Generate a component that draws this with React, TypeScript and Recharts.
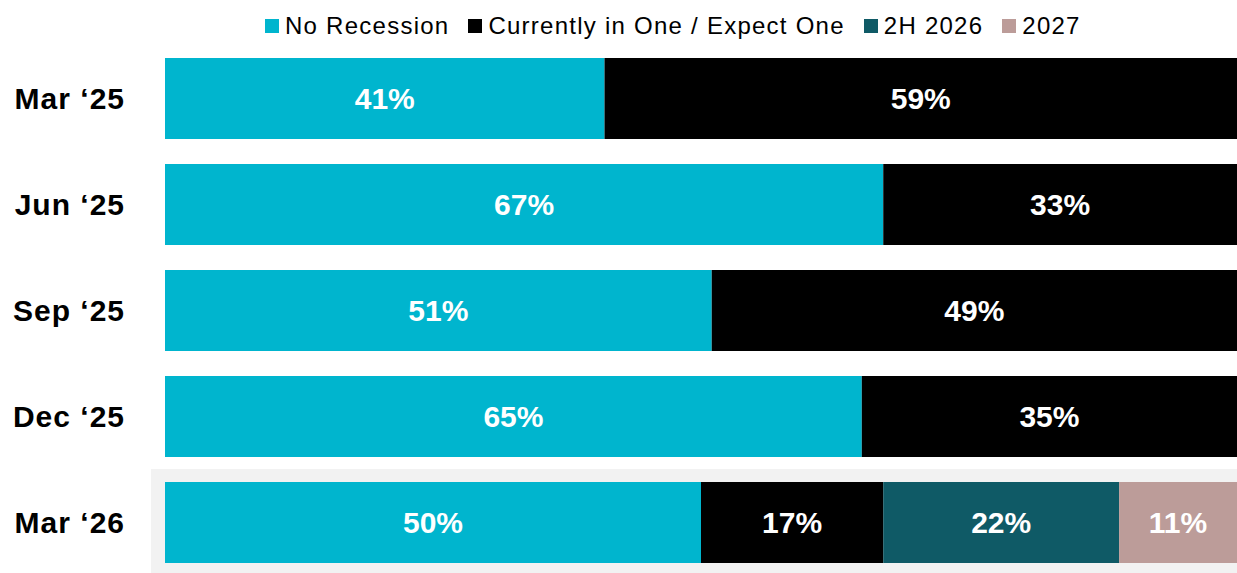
import React from 'react';
import { BarChart, Bar, XAxis, YAxis, Legend, LabelList, ReferenceArea } from 'recharts';

// survey rounds, top to bottom
const periods = ['Mar \u201825', 'Jun \u201825', 'Sep \u201825', 'Dec \u201825', 'Mar \u201826'];

// share of respondents (%)
const noRecession = [41, 67, 51, 65, 50];
const expectOne = [59, 33, 49, 35, 17];
const h2026 = [null, null, null, null, 22];
const y2027 = [null, null, null, null, 11];

const series = [
  { key: 'noRecession', name: 'No Recession', color: '#00B5CE' },
  { key: 'expectOne', name: 'Currently in One / Expect One', color: '#000000' },
  { key: 'h2026', name: '2H 2026', color: '#0F5A66' },
  { key: 'y2027', name: '2027', color: '#BC9C99' },
];

const data = periods.map((period, i) => ({
  period,
  noRecession: noRecession[i],
  expectOne: expectOne[i],
  h2026: h2026[i],
  y2027: y2027[i],
}));

const FONT = '"Liberation Sans", Arial, sans-serif';

const fmt = (v: any) => (v == null || v === 0 ? '' : `${v}%`);

const LegendContent = () => (
  <div
    style={{
      height: 40,
      display: 'flex',
      alignItems: 'flex-start',
      paddingLeft: 265,
      paddingTop: 6,
      fontFamily: FONT,
      fontSize: 24,
      lineHeight: '30px',
      letterSpacing: 1.25,
      color: '#000',
      boxSizing: 'border-box',
    }}
  >
    {series.map((s) => (
      <div key={s.key} style={{ display: 'flex', alignItems: 'center', marginRight: 19 }}>
        <span style={{ width: 14, height: 14, background: s.color, marginRight: 6, display: 'inline-block' }} />
        <span>{s.name}</span>
      </div>
    ))}
  </div>
);

const HighlightRow = (props: any) => {
  const { x, y, width, height } = props;
  return <rect x={x - 14} y={y} width={width + 14} height={height} fill="#F2F2F2" />;
};

export default function App() {
  return (
    <div style={{ position: 'absolute', left: 0, top: 0, background: '#fff' }}>
      <BarChart
        width={1237}
        height={575}
        data={data}
        layout="vertical"
        margin={{ top: 5, right: 0, bottom: 0, left: 0 }}
      >
        <XAxis type="number" domain={[0, 100]} hide />
        <YAxis
          type="category"
          dataKey="period"
          width={165}
          axisLine={false}
          tickLine={false}
          tickSize={0}
          tickMargin={40}
          tick={{ fill: '#000', fontSize: 30, fontWeight: 'bold', fontFamily: FONT, letterSpacing: 1 }}
        />
        <Legend verticalAlign="top" align="left" content={<LegendContent />} />
        <ReferenceArea y1={periods[4]} y2={periods[4]} shape={<HighlightRow />} ifOverflow="visible" />
        {series.map((s) => (
          <Bar key={s.key} dataKey={s.key} name={s.name} stackId="a" fill={s.color} barSize={81} isAnimationActive={false}>
            <LabelList
              dataKey={s.key}
              position="center"
              formatter={fmt}
              fill="#fff"
              fontSize={30}
              fontWeight="bold"
              fontFamily={FONT}
            />
          </Bar>
        ))}
      </BarChart>
    </div>
  );
}
